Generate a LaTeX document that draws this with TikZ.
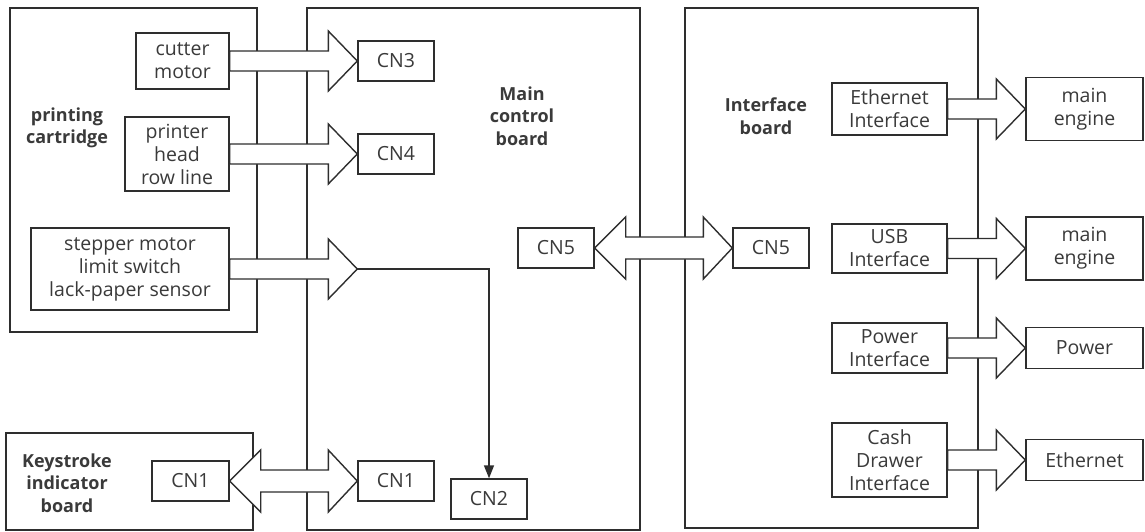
\documentclass[tikz,border=0pt]{standalone}
\usepackage{fontspec}
\setmainfont{Open Sans}
\usetikzlibrary{arrows.meta,calc}
\definecolor{ln}{HTML}{2E2E2E}
\definecolor{tx}{HTML}{3A3A3A}
\tikzset{
  board/.style={draw=ln,line width=1.6pt},
  blk/.style={draw=ln,line width=1.4pt,fill=white,inner sep=0pt,align=center,text=tx,font=\fontsize{19.5}{23}\selectfont},
  lbl/.style={inner sep=0pt,align=center,text=tx,font=\fontsize{18}{22.5}\selectfont\bfseries},
  fatsty/.style={draw=ln,line width=1.4pt,fill=white,line join=miter},
}
\newcommand\fatarr[2]{%
  \draw[fatsty] let \p1=(#1), \p2=(#2) in
    (\x1,{\y1+10pt}) -- ({\x2-29pt},{\y1+10pt}) -- ({\x2-29pt},{\y1+30pt}) -- (\x2,\y1)
    -- ({\x2-29pt},{\y1-30pt}) -- ({\x2-29pt},{\y1-10pt}) -- (\x1,{\y1-10pt}) -- cycle;}
\newcommand\dblarr[2]{%
  \draw[fatsty] let \p1=(#1), \p2=(#2) in
    (\x1,\y1) -- ({\x1+31pt},{\y1+31pt}) -- ({\x1+31pt},{\y1+11pt}) -- ({\x2-29pt},{\y1+11pt})
    -- ({\x2-29pt},{\y1+31pt}) -- (\x2,\y1) -- ({\x2-29pt},{\y1-31pt}) -- ({\x2-29pt},{\y1-11pt})
    -- ({\x1+31pt},{\y1-11pt}) -- ({\x1+31pt},{\y1-31pt}) -- cycle;}
\begin{document}
\begin{tikzpicture}[x=1pt,y=-1pt]
\useasboundingbox (0,0) rectangle (1145,531);
% boards
\draw[board] (10,8) rectangle (257,332);
\draw[board] (307,8) rectangle (640,530);
\draw[board] (685,8) rectangle (978,528);
\draw[board] (6,433) rectangle (253,530);
% board labels
\node[lbl] (lcart) at (67,128) {printing\\cartridge};
\node[lbl] (lmain) at (522,116) {Main\\control\\board};
\node[lbl] (lintf) at (766,116) {Interface\\board};
\node[lbl] (lkey) at (67,483) {Keystroke\\indicator\\board};
% source blocks
\node[blk,minimum width=93pt,minimum height=56pt] (cutter) at (182.5,61) {cutter\\motor};
\node[blk,minimum width=104pt,minimum height=74pt] (head) at (177,154) {printer\\head\\row line};
\node[blk,minimum width=198pt,minimum height=82pt] (step) at (130,269) {stepper motor\\limit switch\\lack-paper sensor};
\node[blk,minimum width=77pt,minimum height=40pt] (cn1k) at (190.5,481) {CN1};
% main board connectors
\node[blk,minimum width=76pt,minimum height=40pt] (cn3) at (396,61) {CN3};
\node[blk,minimum width=76pt,minimum height=40pt] (cn4) at (396,154) {CN4};
\node[blk,minimum width=76pt,minimum height=40pt] (cn1m) at (396,481) {CN1};
\node[blk,minimum width=76pt,minimum height=40pt] (cn2) at (489,499) {CN2};
\node[blk,minimum width=76pt,minimum height=40pt] (cn5m) at (556,248) {CN5};
\node[blk,minimum width=76pt,minimum height=40pt] (cn5i) at (771,248) {CN5};
% interface blocks
\node[blk,minimum width=115pt,minimum height=52pt] (ethi) at (889.5,109) {Ethernet\\Interface};
\node[blk,minimum width=115pt,minimum height=49pt] (usbi) at (889.5,248.5) {USB\\Interface};
\node[blk,minimum width=115pt,minimum height=50pt] (powi) at (889.5,348) {Power\\Interface};
\node[blk,minimum width=115pt,minimum height=74pt] (cashi) at (889.5,460) {Cash\\Drawer\\Interface};
\node[blk,minimum width=117pt,minimum height=63pt] (me1) at (1084.5,109) {main\\engine};
\node[blk,minimum width=117pt,minimum height=63pt] (me2) at (1084.5,248.5) {main\\engine};
\node[blk,minimum width=117pt,minimum height=41pt] (pow) at (1084.5,348) {Power};
\node[blk,minimum width=117pt,minimum height=41pt] (eth) at (1084.5,460) {Ethernet};
\coordinate (tip3) at (cn4.west |- step.east);
% fat arrows
\fatarr{cutter.east}{cn3.west}
\fatarr{head.east}{cn4.west}
\fatarr{step.east}{tip3}
\dblarr{cn1k.east}{cn1m.west}
\dblarr{cn5m.east}{cn5i.west}
\fatarr{ethi.east}{me1.west}
\fatarr{usbi.east}{me2.west}
\fatarr{powi.east}{pow.west}
\fatarr{cashi.east}{eth.west}
% thin arrow to CN2
\draw[draw=ln,line width=1.4pt,-{Triangle[length=13pt,width=10pt]}] (tip3) -| (cn2.north);
\end{tikzpicture}
\end{document}
